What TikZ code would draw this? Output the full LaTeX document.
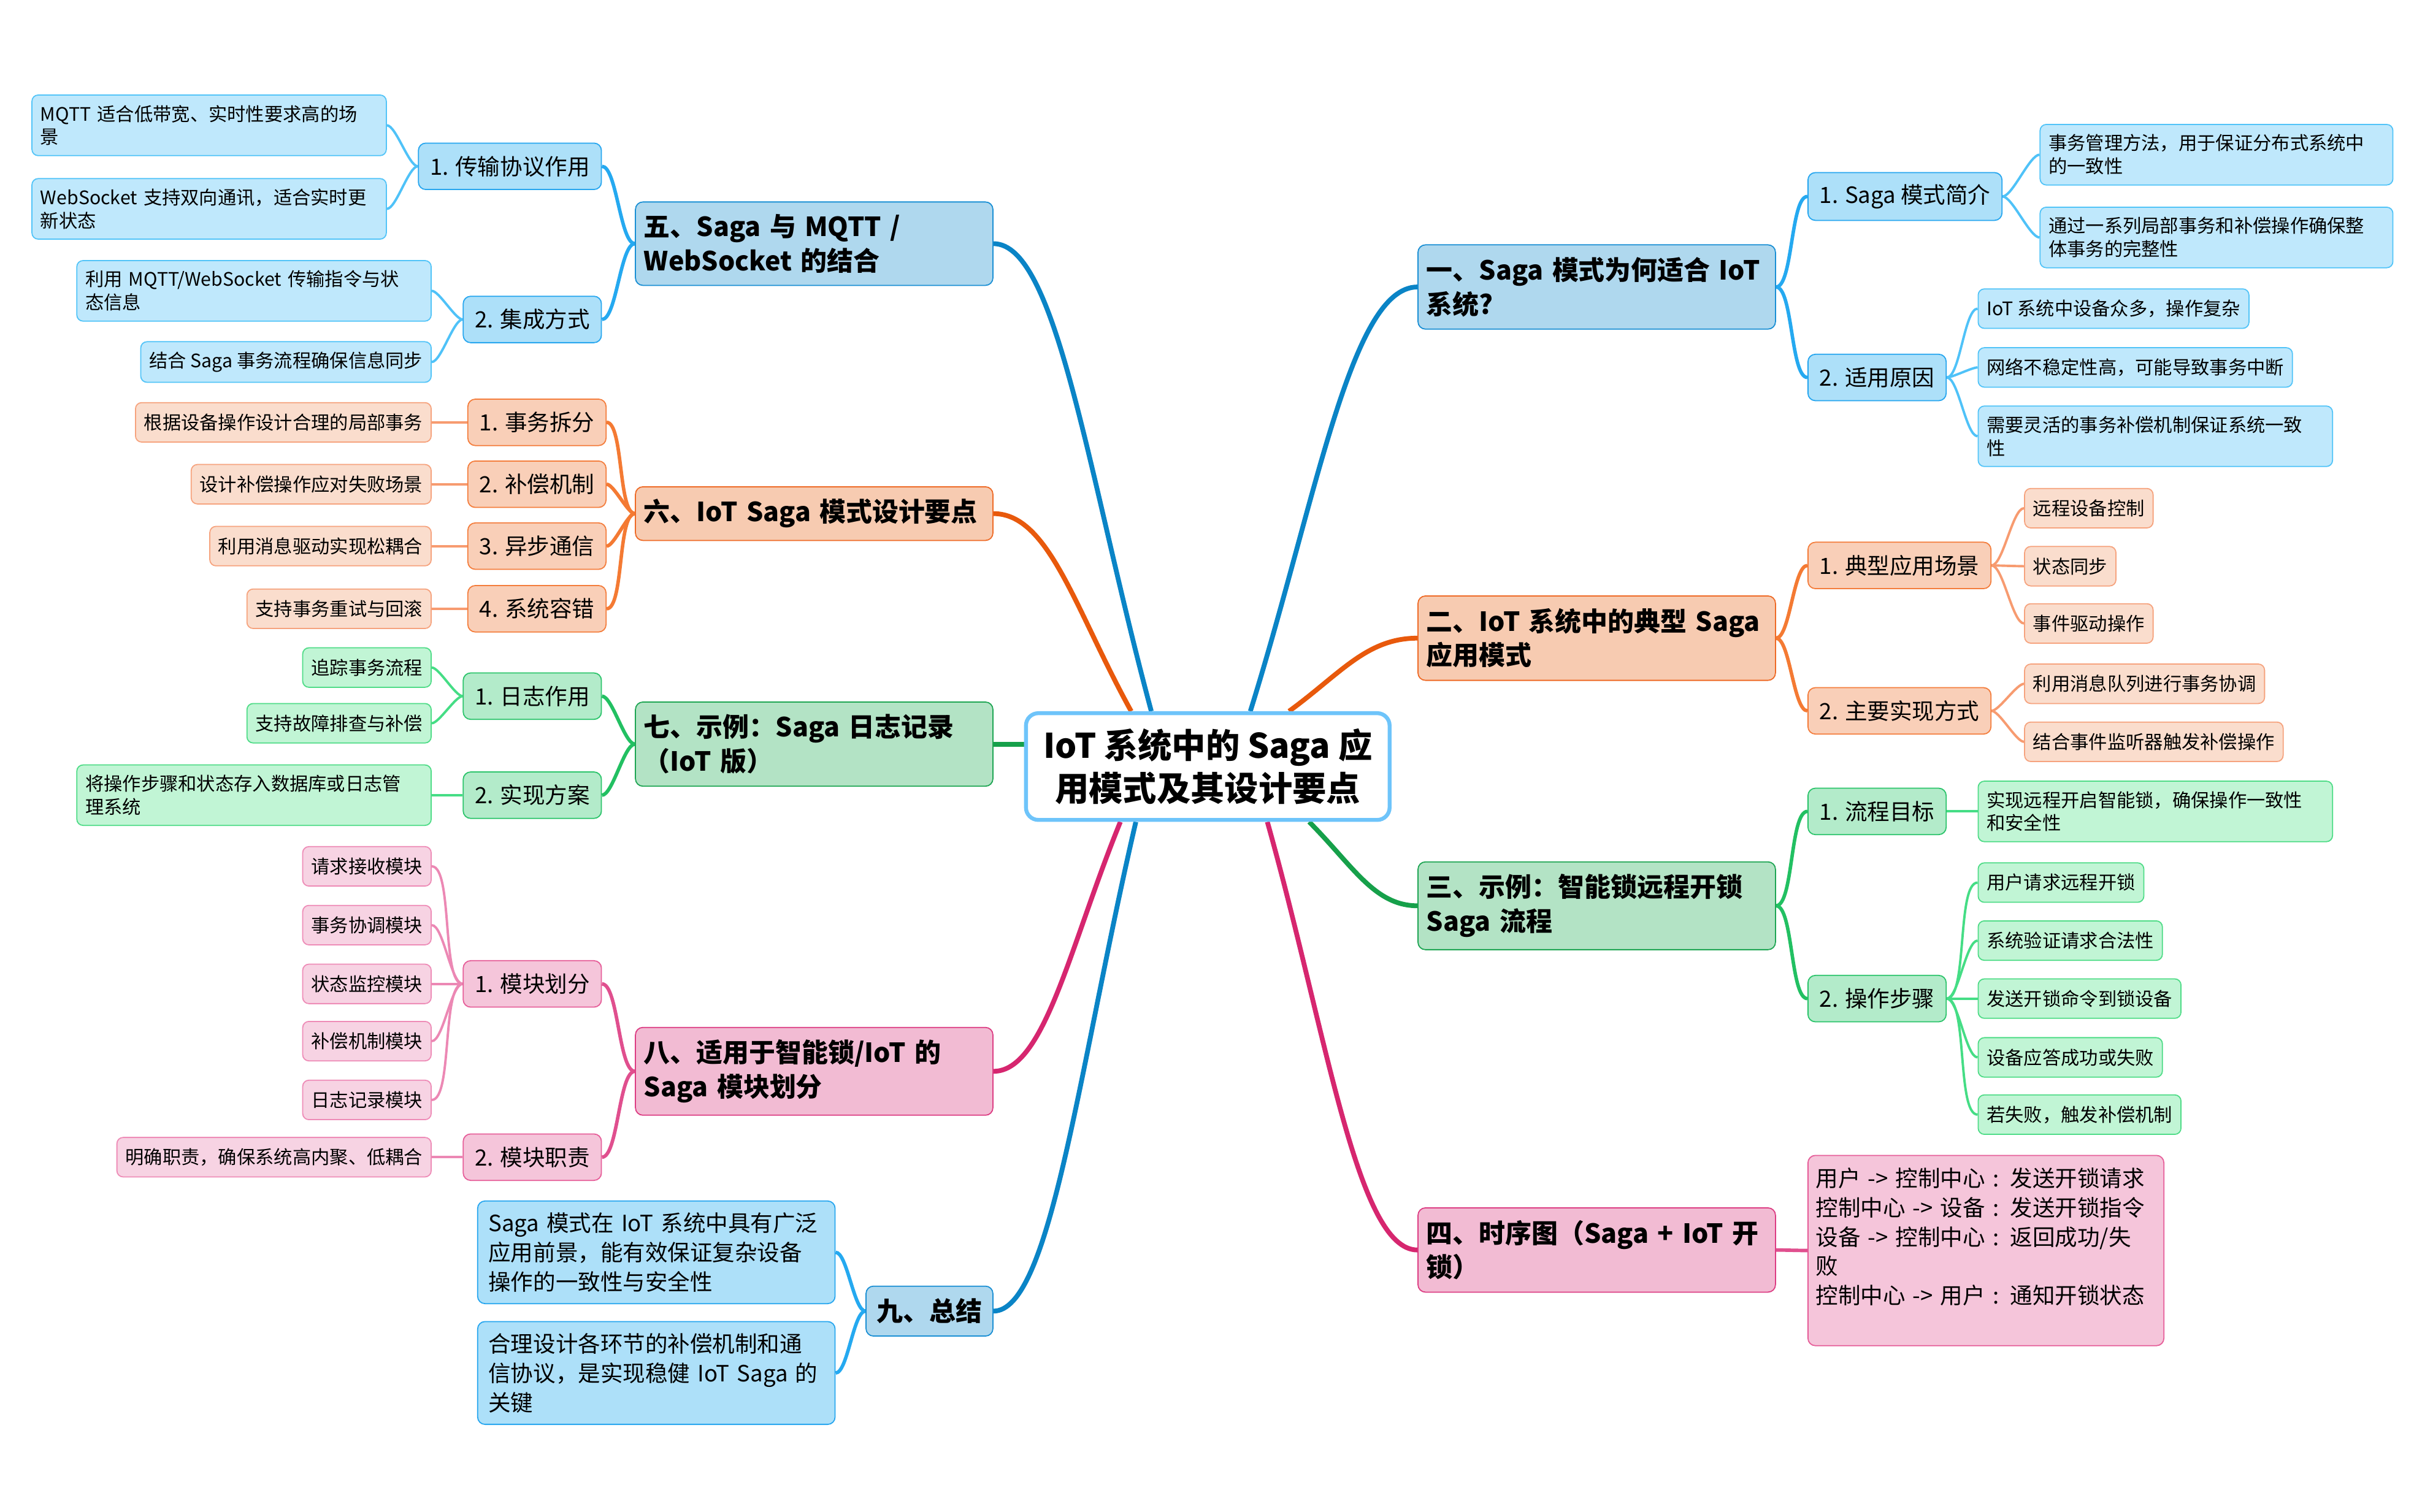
\documentclass[tikz,border=0pt]{standalone}
\usepackage{fontspec}
\setmainfont{Noto Sans CJK SC}
\usetikzlibrary{backgrounds}

\newlength{\px}
\setlength{\px}{0.25mm}
\newcommand{\rootsize}{\fontsize{15.6}{19.9}\selectfont\bfseries}
\newcommand{\topicsize}{\fontsize{12.1}{15.65}\selectfont\bfseries}
\newcommand{\subsize}{\fontsize{10.3}{13.5}\selectfont}
\newcommand{\leafsize}{\fontsize{8.54}{10.67}\selectfont}

\definecolor{rootline}{HTML}{6EC4FA}
\definecolor{bluemainfill}{HTML}{AFD8EE}
\definecolor{bluemaindraw}{HTML}{1A8FD4}
\definecolor{bluesubfill}{HTML}{ADE0F9}
\definecolor{bluesubdraw}{HTML}{27A6EF}
\definecolor{blueleaffill}{HTML}{BFE8FC}
\definecolor{blueleafdraw}{HTML}{52C4F8}
\definecolor{bluemainline}{HTML}{0A84C6}
\definecolor{bluesubline}{HTML}{25A9F0}
\definecolor{blueleafline}{HTML}{4FC2F8}
\definecolor{orangemainfill}{HTML}{F7CBB1}
\definecolor{orangemaindraw}{HTML}{EE6A26}
\definecolor{orangesubfill}{HTML}{F9CFB8}
\definecolor{orangesubdraw}{HTML}{F47D3C}
\definecolor{orangeleaffill}{HTML}{FADDCD}
\definecolor{orangeleafdraw}{HTML}{F6A37E}
\definecolor{orangemainline}{HTML}{E8590C}
\definecolor{orangesubline}{HTML}{F47A33}
\definecolor{orangeleafline}{HTML}{F79B70}
\definecolor{greenmainfill}{HTML}{B3E3C5}
\definecolor{greenmaindraw}{HTML}{1EA553}
\definecolor{greensubfill}{HTML}{B3EBCA}
\definecolor{greensubdraw}{HTML}{2CC46B}
\definecolor{greenleaffill}{HTML}{C1F5D5}
\definecolor{greenleafdraw}{HTML}{4FDC87}
\definecolor{greenmainline}{HTML}{16A04A}
\definecolor{greensubline}{HTML}{22C062}
\definecolor{greenleafline}{HTML}{45DD85}
\definecolor{pinkmainfill}{HTML}{F2BBD3}
\definecolor{pinkmaindraw}{HTML}{DC3D83}
\definecolor{pinksubfill}{HTML}{F5C5DA}
\definecolor{pinksubdraw}{HTML}{E65E99}
\definecolor{pinkleaffill}{HTML}{F7D3E3}
\definecolor{pinkleafdraw}{HTML}{EE8CB7}
\definecolor{pinkmainline}{HTML}{D6266F}
\definecolor{pinksubline}{HTML}{E04F8E}
\definecolor{pinkleafline}{HTML}{EC88B4}

\tikzset{
  boxbase/.style={rounded corners=1.2mm, line width=0.5pt, align=left, text=black},
  rootbox/.style={draw=rootline, line width=1.8pt, fill=white, rounded corners=2mm,
    align=center, font=\rootsize, minimum width=235\px, minimum height=69\px, inner sep=0pt},
  topic/.style={boxbase, fill=#1mainfill, draw=#1maindraw, font=\topicsize,
    text width=220\px, inner xsep=5.5\px, inner ysep=8\px, minimum height=32\px},
  subtopic/.style={boxbase, fill=#1subfill, draw=#1subdraw, font=\subsize,
    inner xsep=7.5\px, inner ysep=7.5\px, minimum height=30\px},
  leaf/.style={boxbase, rounded corners=1mm, fill=#1leaffill, draw=#1leafdraw, font=\leafsize,
    inner xsep=5.5\px, inner ysep=6.5\px, minimum height=25.5\px},
  topiclink/.style={line width=2.2pt, color=#1mainline},
  sublink/.style={line width=1.6pt, color=#1subline},
  leaflink/.style={line width=1.1pt, color=#1leafline},
  rbranch/.style={out=0, in=180, looseness=0.45},
  lbranch/.style={out=180, in=0, looseness=0.45},
}

\begin{document}
\begin{tikzpicture}[x=0.25mm, y=-0.25mm]
    \useasboundingbox (0,0) rectangle (1560,977);

    % Central topic
    \node[rootbox] (root) at (780.5,495.5) {IoT 系统中的 Saga 应\\用模式及其设计要点};

    % Right side: one
    \node[topic=blue, anchor=west]   (m1)  at (916,185.5) {一、Saga 模式为何适合 IoT\\系统?};
    \node[subtopic=blue, anchor=west] (s11) at (1168,127) {1. Saga 模式简介};
    \node[subtopic=blue, anchor=west] (s12) at (1168,244) {2. 适用原因};
    \node[leaf=blue, anchor=west, text width=217\px] (l111) at (1318,100) {事务管理方法，用于保证分布式系统中\\的一致性};
    \node[leaf=blue, anchor=west, text width=217\px] (l112) at (1318,153.5) {通过一系列局部事务和补偿操作确保整\\体事务的完整性};
    \node[leaf=blue, anchor=west] (l121) at (1278,199.5) {IoT 系统中设备众多，操作复杂};
    \node[leaf=blue, anchor=west] (l122) at (1278,237.5) {网络不稳定性高，可能导致事务中断};
    \node[leaf=blue, anchor=west, text width=218\px] (l123) at (1278,282) {需要灵活的事务补偿机制保证系统一致\\性};

    % Right side: two
    \node[topic=orange, anchor=west]   (m2)  at (916,412.5) {二、IoT 系统中的典型 Saga\\应用模式};
    \node[subtopic=orange, anchor=west] (s21) at (1168,365.5) {1. 典型应用场景};
    \node[subtopic=orange, anchor=west] (s22) at (1168,459.5) {2. 主要实现方式};
    \node[leaf=orange, anchor=west] (l211) at (1308,328.5) {远程设备控制};
    \node[leaf=orange, anchor=west] (l212) at (1308,366)   {状态同步};
    \node[leaf=orange, anchor=west] (l213) at (1308,403)   {事件驱动操作};
    \node[leaf=orange, anchor=west] (l221) at (1308,442)   {利用消息队列进行事务协调};
    \node[leaf=orange, anchor=west] (l222) at (1308,479.5) {结合事件监听器触发补偿操作};

    % Right side: three
    \node[topic=green, anchor=west]   (m3)  at (916,585.5) {三、示例：智能锁远程开锁\\Saga 流程};
    \node[subtopic=green, anchor=west] (s31) at (1168,524.5) {1. 流程目标};
    \node[subtopic=green, anchor=west] (s32) at (1168,645.5) {2. 操作步骤};
    \node[leaf=green, anchor=west, text width=218\px] (l311) at (1278,524.5) {实现远程开启智能锁，确保操作一致性\\和安全性};
    \node[leaf=green, anchor=west] (l321) at (1278,570.5) {用户请求远程开锁};
    \node[leaf=green, anchor=west] (l322) at (1278,608)   {系统验证请求合法性};
    \node[leaf=green, anchor=west] (l323) at (1278,645.5) {发送开锁命令到锁设备};
    \node[leaf=green, anchor=west] (l324) at (1278,683.5) {设备应答成功或失败};
    \node[leaf=green, anchor=west] (l325) at (1278,720.5) {若失败，触发补偿机制};

    % Right side: four
    \node[topic=pink, anchor=west] (m4) at (916,808) {四、时序图（Saga + IoT 开\\锁）};
    \node[subtopic=pink, anchor=north west, text width=220\px, inner xsep=5\px, minimum height=123\px] (s41) at (1168,746.5)
        {用户 -> 控制中心 : 发送开锁请求\\控制中心 -> 设备 : 发送开锁指令\\设备 -> 控制中心 : 返回成功/失\\败\\控制中心 -> 用户 : 通知开锁状态\\\mbox{}};

    % Left side: five
    \node[topic=blue, anchor=east]   (m5)  at (642,157.5) {五、Saga 与 MQTT /\\WebSocket 的结合};
    \node[subtopic=blue, anchor=east] (s51) at (389,107.5) {1. 传输协议作用};
    \node[subtopic=blue, anchor=east] (s52) at (389,206.5) {2. 集成方式};
    \node[leaf=blue, anchor=east, text width=218\px] (l511) at (250,81)  {MQTT 适合低带宽、实时性要求高的场\\景};
    \node[leaf=blue, anchor=east, text width=218\px] (l512) at (250,135) {WebSocket 支持双向通讯，适合实时更\\新状态};
    \node[leaf=blue, anchor=east, text width=218\px] (l521) at (279,188) {利用 MQTT/WebSocket 传输指令与状\\态信息};
    \node[leaf=blue, anchor=east] (l522) at (279,234) {结合 Saga 事务流程确保信息同步};

    % Left side: six
    \node[topic=orange, anchor=east]   (m6)  at (642,332)   {六、IoT Saga 模式设计要点};
    \node[subtopic=orange, anchor=east] (s61) at (392,273)   {1. 事务拆分};
    \node[subtopic=orange, anchor=east] (s62) at (392,313)   {2. 补偿机制};
    \node[subtopic=orange, anchor=east] (s63) at (392,353)   {3. 异步通信};
    \node[subtopic=orange, anchor=east] (s64) at (392,393.5) {4. 系统容错};
    \node[leaf=orange, anchor=east] (l611) at (279,273)   {根据设备操作设计合理的局部事务};
    \node[leaf=orange, anchor=east] (l621) at (279,313)   {设计补偿操作应对失败场景};
    \node[leaf=orange, anchor=east] (l631) at (279,353)   {利用消息驱动实现松耦合};
    \node[leaf=orange, anchor=east] (l641) at (279,393.5) {支持事务重试与回滚};

    % Left side: seven
    \node[topic=green, anchor=east]   (m7)  at (642,481) {七、示例：Saga 日志记录\\（IoT 版）};
    \node[subtopic=green, anchor=east] (s71) at (389,450) {1. 日志作用};
    \node[subtopic=green, anchor=east] (s72) at (389,514) {2. 实现方案};
    \node[leaf=green, anchor=east] (l711) at (279,431.5) {追踪事务流程};
    \node[leaf=green, anchor=east] (l712) at (279,467.5) {支持故障排查与补偿};
    \node[leaf=green, anchor=east, text width=218\px] (l721) at (279,514) {将操作步骤和状态存入数据库或日志管\\理系统};

    % Left side: eight
    \node[topic=pink, anchor=east]   (m8)  at (642,692.5) {八、适用于智能锁/IoT 的\\Saga 模块划分};
    \node[subtopic=pink, anchor=east] (s81) at (389,636) {1. 模块划分};
    \node[subtopic=pink, anchor=east] (s82) at (389,748) {2. 模块职责};
    \node[leaf=pink, anchor=east] (l811) at (279,560) {请求接收模块};
    \node[leaf=pink, anchor=east] (l812) at (279,598) {事务协调模块};
    \node[leaf=pink, anchor=east] (l813) at (279,636) {状态监控模块};
    \node[leaf=pink, anchor=east] (l814) at (279,673) {补偿机制模块};
    \node[leaf=pink, anchor=east] (l815) at (279,711) {日志记录模块};
    \node[leaf=pink, anchor=east] (l821) at (279,748) {明确职责，确保系统高内聚、低耦合};

    % Left side: nine
    \node[topic=blue, anchor=east, text width=68\px, inner xsep=7\px] (m9) at (642,847.5) {九、总结};
    \node[subtopic=blue, anchor=east, text width=217\px, inner xsep=7\px] (s91) at (540,809.5) {Saga 模式在 IoT 系统中具有广泛\\应用前景，能有效保证复杂设备\\操作的一致性与安全性};
    \node[subtopic=blue, anchor=east, text width=217\px, inner xsep=7\px] (s92) at (540,887.5) {合理设计各环节的补偿机制和通\\信协议，是实现稳健 IoT Saga 的\\关键};

    % Connectors, behind the boxes
    \begin{pgfonlayer}{background}
    \fill[white] (0,0) rectangle (1560,977);

    \draw[topiclink=blue]   ([xshift=27.5\px]root.north) .. controls +(43,-138) and +(-43,0) .. (m1.west);
    \draw[topiclink=orange] ([xshift=52.5\px]root.north) .. controls +(33,-24) and +(-33,0) .. (m2.west);
    \draw[topiclink=green]  ([xshift=65.5\px]root.south) .. controls +(28,28) and +(-28,0) .. (m3.west);
    \draw[topiclink=pink]   ([xshift=38.5\px]root.south) .. controls +(39,139) and +(-39,0) .. (m4.west);
    \draw[topiclink=blue]   ([xshift=-36.5\px]root.north) .. controls +(-41,-152) and +(41,0) .. (m5.east);
    \draw[topiclink=orange] ([xshift=-49.5\px]root.north) .. controls +(-36,-65) and +(36,0) .. (m6.east);
    \draw[topiclink=green]  ([yshift=14.5\px]root.west) -- (m7.east);
    \draw[topiclink=pink]   ([xshift=-56.5\px]root.south) .. controls +(-33,81) and +(33,0) .. (m8.east);
    \draw[topiclink=blue]   ([xshift=-46.5\px]root.south) .. controls +(-37,159) and +(37,0) .. (m9.east);

    \path[sublink=blue]   (m1.east) edge[rbranch] (s11.west) edge[rbranch] (s12.west);
    \path[sublink=orange] (m2.east) edge[rbranch] (s21.west) edge[rbranch] (s22.west);
    \path[sublink=green]  (m3.east) edge[rbranch] (s31.west) edge[rbranch] (s32.west);
    \path[sublink=pink]   (m4.east) edge[rbranch] (s41.west);
    \path[sublink=blue]   (m5.west) edge[lbranch] (s51.east) edge[lbranch] (s52.east);
    \path[sublink=orange] (m6.west) edge[lbranch] (s61.east) edge[lbranch] (s62.east)
                                    edge[lbranch] (s63.east) edge[lbranch] (s64.east);
    \path[sublink=green]  (m7.west) edge[lbranch] (s71.east) edge[lbranch] (s72.east);
    \path[sublink=pink]   (m8.west) edge[lbranch] (s81.east) edge[lbranch] (s82.east);
    \path[sublink=blue]   (m9.west) edge[lbranch] (s91.east) edge[lbranch] (s92.east);

    \path[leaflink=blue]   (s11.east) edge[rbranch] (l111.west) edge[rbranch] (l112.west);
    \path[leaflink=blue]   (s12.east) edge[rbranch] (l121.west) edge[rbranch] (l122.west)
                                      edge[rbranch] (l123.west);
    \path[leaflink=orange] (s21.east) edge[rbranch] (l211.west) edge[rbranch] (l212.west)
                                      edge[rbranch] (l213.west);
    \path[leaflink=orange] (s22.east) edge[rbranch] (l221.west) edge[rbranch] (l222.west);
    \path[leaflink=green]  (s31.east) edge[rbranch] (l311.west);
    \path[leaflink=green]  (s32.east) edge[rbranch] (l321.west) edge[rbranch] (l322.west)
                                      edge[rbranch] (l323.west) edge[rbranch] (l324.west)
                                      edge[rbranch] (l325.west);
    \path[leaflink=blue]   (s51.west) edge[lbranch] (l511.east) edge[lbranch] (l512.east);
    \path[leaflink=blue]   (s52.west) edge[lbranch] (l521.east) edge[lbranch] (l522.east);
    \path[leaflink=orange] (s61.west) edge[lbranch] (l611.east);
    \path[leaflink=orange] (s62.west) edge[lbranch] (l621.east);
    \path[leaflink=orange] (s63.west) edge[lbranch] (l631.east);
    \path[leaflink=orange] (s64.west) edge[lbranch] (l641.east);
    \path[leaflink=green]  (s71.west) edge[lbranch] (l711.east) edge[lbranch] (l712.east);
    \path[leaflink=green]  (s72.west) edge[lbranch] (l721.east);
    \path[leaflink=pink]   (s81.west) edge[lbranch] (l811.east) edge[lbranch] (l812.east)
                                      edge[lbranch] (l813.east) edge[lbranch] (l814.east)
                                      edge[lbranch] (l815.east);
    \path[leaflink=pink]   (s82.west) edge[lbranch] (l821.east);
    \end{pgfonlayer}

\end{tikzpicture}
\end{document}
